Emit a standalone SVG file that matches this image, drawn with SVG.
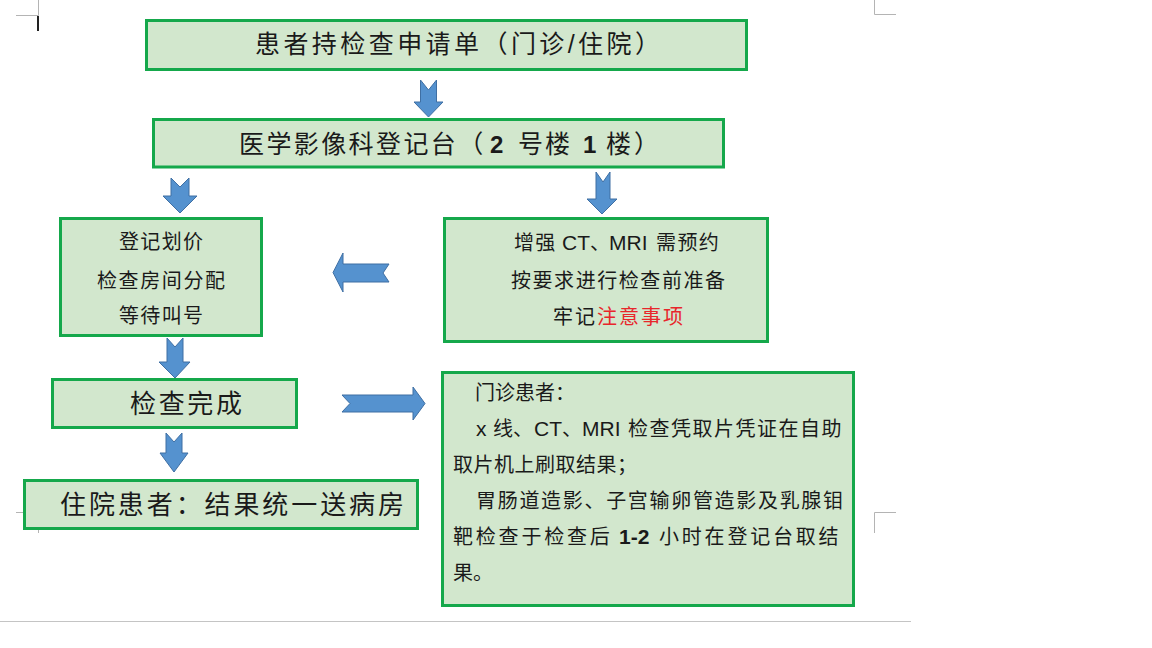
<svg xmlns="http://www.w3.org/2000/svg" width="1152" height="648" viewBox="0 0 1152 648">
<style>
.box{fill:#d2e7cd;stroke:#15a84b;stroke-width:3}
.arr{fill:#5592cf;stroke:#3f6fa3;stroke-width:1}
.t{font-family:"Liberation Sans","Noto Sans CJK SC",sans-serif;fill:#1a1a1a}
.big{font-size:25px}
.mid{font-size:20px}
.lat{font-size:21px}
.b{font-weight:bold}
.mark{stroke:#b4b4b4;stroke-width:1;fill:none}
.red{fill:#e8262b}
</style>
<rect width="1152" height="648" fill="#ffffff"/>
<g id="page-marks">
<path class="mark" d="M38.5 0V15.5H16M874.5 0V14.5H896M16 512.5H38.5V533M874.5 533V512.5H896"/>
<path d="M0 621.5H911" stroke="#c4c4c4" stroke-width="1"/>
<rect x="37" y="16" width="2" height="15" fill="#222"/>
</g>
<g id="n1"><rect class="box" x="146.5" y="20.5" width="600" height="49"/>
<text class="t big" x="255" y="53" textLength="405" lengthAdjust="spacing">患者持检查申请单（门诊/住院）</text></g>
<g id="n2"><rect class="box" x="153.5" y="119.5" width="570" height="47.5"/>
<text class="t big" y="153"><tspan x="239" style="letter-spacing:2.4px">医学影像科登记台（</tspan><tspan x="490" class="b" style="font-size:24px">2</tspan><tspan x="518" style="letter-spacing:2px">号楼</tspan><tspan x="583" class="b" style="font-size:24px">1</tspan><tspan x="606" style="letter-spacing:3px">楼）</tspan></text></g>
<g id="n3"><rect class="box" x="60.5" y="218.5" width="201" height="117"/>
<text class="t mid" x="119" y="248.5" textLength="84" lengthAdjust="spacing">登记划价</text>
<text class="t mid" x="97" y="288" textLength="128" lengthAdjust="spacing">检查房间分配</text>
<text class="t mid" x="119" y="323" textLength="84" lengthAdjust="spacing">等待叫号</text></g>
<g id="n4"><rect class="box" x="444.5" y="218.5" width="323" height="123"/>
<text class="t mid" y="250"><tspan x="514" style="letter-spacing:1.2px">增强</tspan><tspan x="562" class="lat">CT</tspan><tspan>、</tspan><tspan x="609" class="lat">MRI</tspan><tspan x="656" style="letter-spacing:1.4px">需预约</tspan></text>
<text class="t mid" x="511" y="288" textLength="214" lengthAdjust="spacing">按要求进行检查前准备</text>
<text class="t mid" x="553" y="324" textLength="130" lengthAdjust="spacing">牢记<tspan class="red">注意事项</tspan></text></g>
<g id="n5"><rect class="box" x="52.5" y="379.5" width="244" height="48"/>
<text class="t" style="font-size:26px" x="130" y="412.5" textLength="112" lengthAdjust="spacing">检查完成</text></g>
<g id="n6"><rect class="box" x="24.5" y="480.5" width="393" height="48"/>
<text class="t" style="font-size:26px" x="60" y="513.5" textLength="344" lengthAdjust="spacing">住院患者：结果统一送病房</text></g>
<g id="n7"><rect class="box" x="442.5" y="372.5" width="411" height="233"/>
<text class="t mid" x="475" y="400">门诊患者：</text>
<text class="t mid" y="436"><tspan x="476" class="lat">x</tspan><tspan x="493">线、</tspan><tspan x="534" class="lat">CT</tspan><tspan>、</tspan><tspan x="582" class="lat">MRI</tspan><tspan x="628" style="letter-spacing:1.5px">检查凭取片凭证在自助</tspan></text>
<text class="t mid" x="453" y="472" style="letter-spacing:0.5px">取片机上刷取结果；</text>
<text class="t mid" x="476" y="508" textLength="367" lengthAdjust="spacing">胃肠道造影、子宫输卵管造影及乳腺钼</text>
<text class="t mid" y="544"><tspan x="453" style="letter-spacing:2.8px">靶检查于检查后</tspan><tspan x="619" class="lat b">1-2</tspan><tspan x="659" style="letter-spacing:2.8px">小时在登记台取结</tspan></text>
<text class="t mid" x="453" y="580">果。</text></g>
<g id="connectors">
<polygon class="arr" points="420.5,80 428.5,90 436.5,80 436.5,102 443,102 428.5,117 414,102 420.5,102"/>
<polygon class="arr" points="171,178 180,187 189,178 189,196 197,196 180,213 163,196 171,196"/>
<polygon class="arr" points="596,172 603,182 610,172 610,199 617,199 602,214 587,199 596,199"/>
<polygon class="arr" points="389,264 383,273 389,282 343,282 343,292 333,272.5 343,253 343,264"/>
<polygon class="arr" points="342,395 350,403.5 342,412 413,412 413,420 425,403.5 413,387 413,395"/>
<polygon class="arr" points="167,338 175,347 183,338 183,362 190,362 175,378 159,362 167,362"/>
<polygon class="arr" points="166,433 174,442 182,433 182,453 188,453 174,472 160,453 166,453"/>
</g>
</svg>
